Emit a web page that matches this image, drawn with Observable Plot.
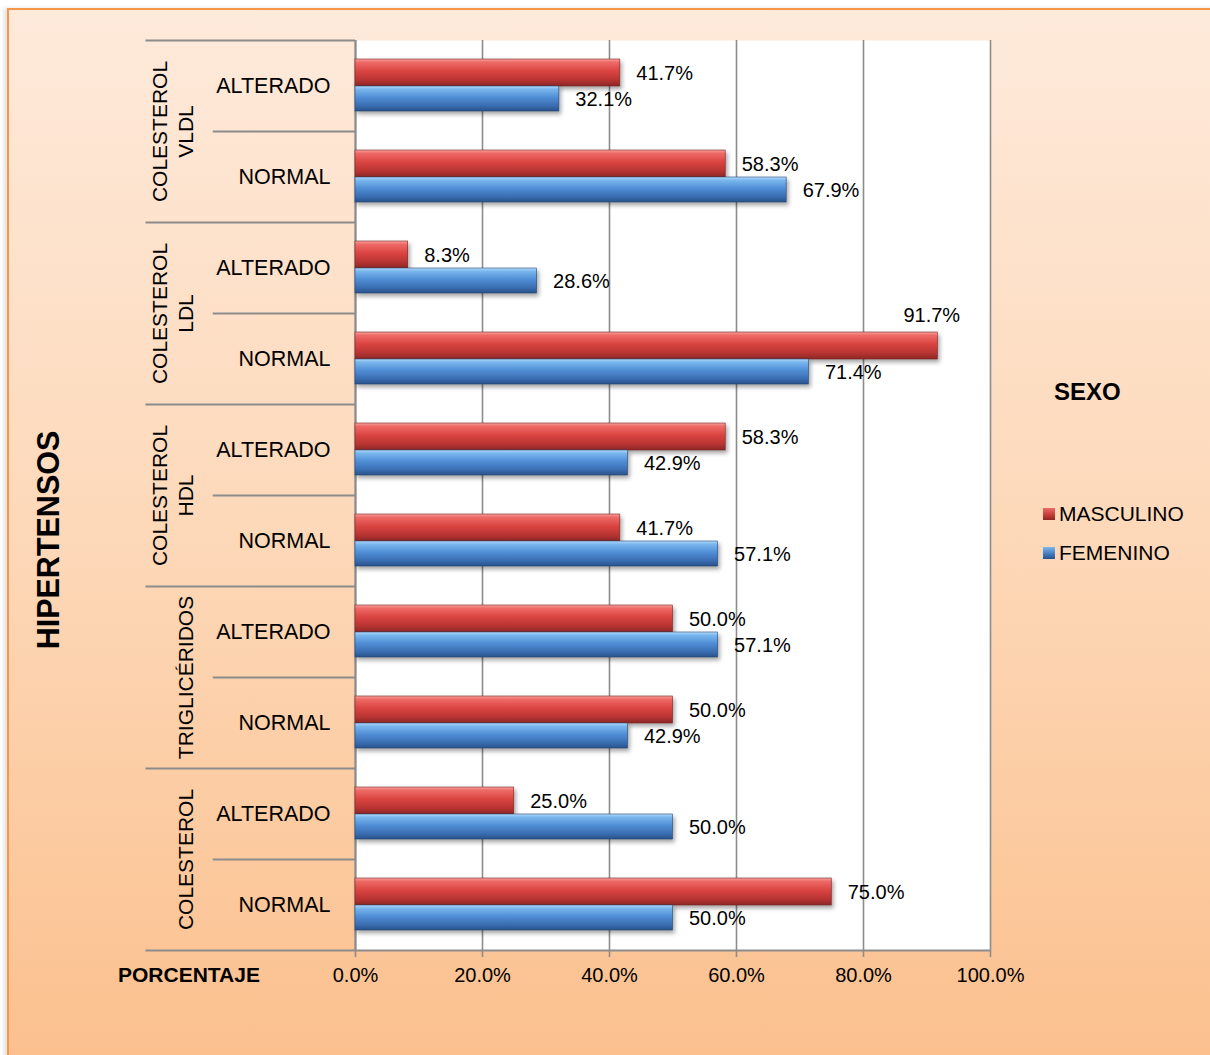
<!DOCTYPE html>
<html>
<head>
<meta charset="utf-8">
<script src="https://cdn.jsdelivr.net/npm/d3@7"></script>
<script src="https://cdn.jsdelivr.net/npm/@observablehq/plot@0.6"></script>
<style>
  html, body { margin: 0; padding: 0; width: 1210px; height: 1055px; overflow: hidden; background: #ffffff; font-family: "Liberation Sans", Arial, sans-serif; }
  #frame { position: absolute; left: 7px; top: 8px; width: 1220px; height: 1070px; border: 2px solid #F79646;
           background: linear-gradient(to bottom, #FEEADB 0%, #FDD8B8 50%, #FBBF8C 100%);
           box-shadow: -3px 0 4px rgba(0,0,0,0.12); }
  #chart { position: absolute; left: 0; top: 0; }
  .abs { position: absolute; color: #000; white-space: nowrap; }
  #ytitle { left: 48px; top: 540px; font-weight: bold; font-size: 30.5px; transform: translate(-50%, -50%) rotate(-90deg); }
  #xtitle { left: 118px; top: 975px; font-weight: bold; font-size: 21px; transform: translateY(-50%); }
  #legtitle { left: 1054px; top: 392px; font-weight: bold; font-size: 24px; transform: translateY(-50%); }
  .legitem { left: 1043px; font-size: 21px; transform: translateY(-50%); display: flex; align-items: center; }
  .sw { width: 12px; height: 12px; margin-right: 4px; }
</style>
</head>
<body>
<div id="frame"></div>
<div id="chart"></div>
<div id="ytitle" class="abs">HIPERTENSOS</div>
<div id="xtitle" class="abs">PORCENTAJE</div>
<div id="legend"></div>
<script>
// ---- data ----
const groups = ["COLESTEROL\nVLDL", "COLESTEROL\nLDL", "COLESTEROL\nHDL", "TRIGLICÉRIDOS", "COLESTEROL"];
const statuses = ["ALTERADO", "NORMAL"];
const series = ["MASCULINO", "FEMENINO"];
const masculino = [41.7, 58.3, 8.3, 91.7, 58.3, 41.7, 50.0, 50.0, 25.0, 75.0];
const femenino  = [32.1, 67.9, 28.6, 71.4, 42.9, 57.1, 57.1, 42.9, 50.0, 50.0];
const xTicks = [0, 20, 40, 60, 80, 100];
const legendTitle = "SEXO";

// ---- layout ----
const W = 1210, H = 1055;
const mL = 355, mR = 220, mT = 40, mB = 105;
const pxPerUnit = (W - mL - mR) / 100;
const gray = "#8C8C8C";

const rows = [];
groups.forEach((g, gi) => statuses.forEach((s, si) => rows.push({group: g, status: s, key: g + "|" + s, gi, si})));
const rowKeys = rows.map(r => r.key);
const step = (H - mT - mB) / rowKeys.length;

const bars = [];
rows.forEach((r, i) => {
  bars.push({row: r.key, sex: series[0], value: masculino[i]});
  bars.push({row: r.key, sex: series[1], value: femenino[i]});
});
const fmt = v => v.toFixed(1) + "%";
const labelW = 58 + 16;
const fits = d => d.value + labelW / pxPerUnit <= 100;

const firstRows = rows.filter(r => r.si === 0);
const secondRows = rows.filter(r => r.si === 1);
const lastRow = rows[rows.length - 1];

const plot = Plot.plot({
  width: W, height: H,
  marginLeft: mL, marginRight: mR, marginTop: mT, marginBottom: mB,
  style: {background: "transparent", fontFamily: "'Liberation Sans', Arial, sans-serif", fontSize: "20px", color: "#000", overflow: "visible"},
  x: {domain: [0, 100], axis: null},
  y: {domain: rowKeys, padding: 0, axis: null},
  marks: [
    Plot.frame({fill: "white", stroke: null}),
    Plot.ruleX(xTicks, {x: d => d, stroke: gray, strokeWidth: 1.6, insetBottom: -7}),
    // table separators
    Plot.ruleY(firstRows, {y: "key", dy: -step / 2, x1: -33, x2: 0, stroke: gray, strokeWidth: 2}),
    Plot.ruleY(secondRows, {y: "key", dy: -step / 2, x1: -22.4, x2: 0, stroke: gray, strokeWidth: 2}),
    Plot.ruleY([lastRow], {y: "key", dy: step / 2, x1: -33, x2: 100, stroke: gray, strokeWidth: 2}),
    Plot.ruleX([0], {stroke: gray, strokeWidth: 2}),
    // bars
    Plot.barX(bars.filter(d => d.sex === series[0]), {x: "value", y: "row", fill: "url(#gradRed)", stroke: "#7d2220", strokeWidth: 0.6, insetTop: 19, insetBottom: 45}),
    Plot.barX(bars.filter(d => d.sex === series[1]), {x: "value", y: "row", fill: "url(#gradBlue)", stroke: "#24487a", strokeWidth: 0.6, insetTop: 46, insetBottom: 20}),
    // value labels
    Plot.text(bars.filter(d => d.sex === series[0] && fits(d)), {x: "value", y: "row", text: d => fmt(d.value), dx: 16, dy: -12.5, textAnchor: "start", fontSize: 20}),
    Plot.text(bars.filter(d => d.sex === series[1] && fits(d)), {x: "value", y: "row", text: d => fmt(d.value), dx: 16, dy: 14, textAnchor: "start", fontSize: 20}),
    Plot.text(bars.filter(d => !fits(d)), {x: "value", y: "row", text: d => fmt(d.value), dx: -6, dy: -43, textAnchor: "middle", fontSize: 20}),
    // table labels
    Plot.text(rows, {x: 0, y: "key", text: "status", dx: -25, textAnchor: "end", fontSize: 21.5}),
    Plot.text(firstRows, {x: 0, y: "key", text: "group", dx: -163, dy: step / 2, rotate: -90, lineAnchor: "bottom", lineHeight: 1.2, textAnchor: "middle", fontSize: 21}),
    // x tick labels
    Plot.text(xTicks, {x: d => d, frameAnchor: "bottom", text: d => fmt(d), dy: 31, fontSize: 20})
  ]
});
document.getElementById("chart").appendChild(plot);

// gradients & shadows
const defs = d3.select(plot).insert("defs", ":first-child");
function grad(id, stops) {
  const g = defs.append("linearGradient").attr("id", id).attr("x1", 0).attr("y1", 0).attr("x2", 0).attr("y2", 1);
  stops.forEach(([o, c]) => g.append("stop").attr("offset", o).attr("stop-color", c));
}
grad("gradRed", [[0, "#F6A3A0"], [0.12, "#EE6A66"], [0.45, "#DA4441"], [0.78, "#B73432"], [1, "#8C2725"]]);
grad("gradBlue", [[0, "#B8DCFA"], [0.12, "#7BB8EF"], [0.45, "#508ED6"], [0.78, "#3A6EB2"], [1, "#29528A"]]);
d3.select(plot).selectAll('g[aria-label="bar"]').style("filter", "drop-shadow(2px 3px 2px rgba(0,0,0,0.35))");

// legend
const legend = document.getElementById("legend");
const t = document.createElement("div");
t.id = "legtitle"; t.className = "abs"; t.textContent = legendTitle;
legend.appendChild(t);
const swatches = ["linear-gradient(to bottom, #EE6A66, #B73432 70%, #8C2725)", "linear-gradient(to bottom, #7BB8EF, #3A6EB2 70%, #29528A)"];
const legY = [514, 553];
series.forEach((s, i) => {
  const it = document.createElement("div");
  it.className = "abs legitem";
  it.style.top = legY[i] + "px";
  it.innerHTML = `<span class="sw" style="background:${swatches[i]}"></span><span>${s}</span>`;
  legend.appendChild(it);
});
</script>
</body>
</html>
